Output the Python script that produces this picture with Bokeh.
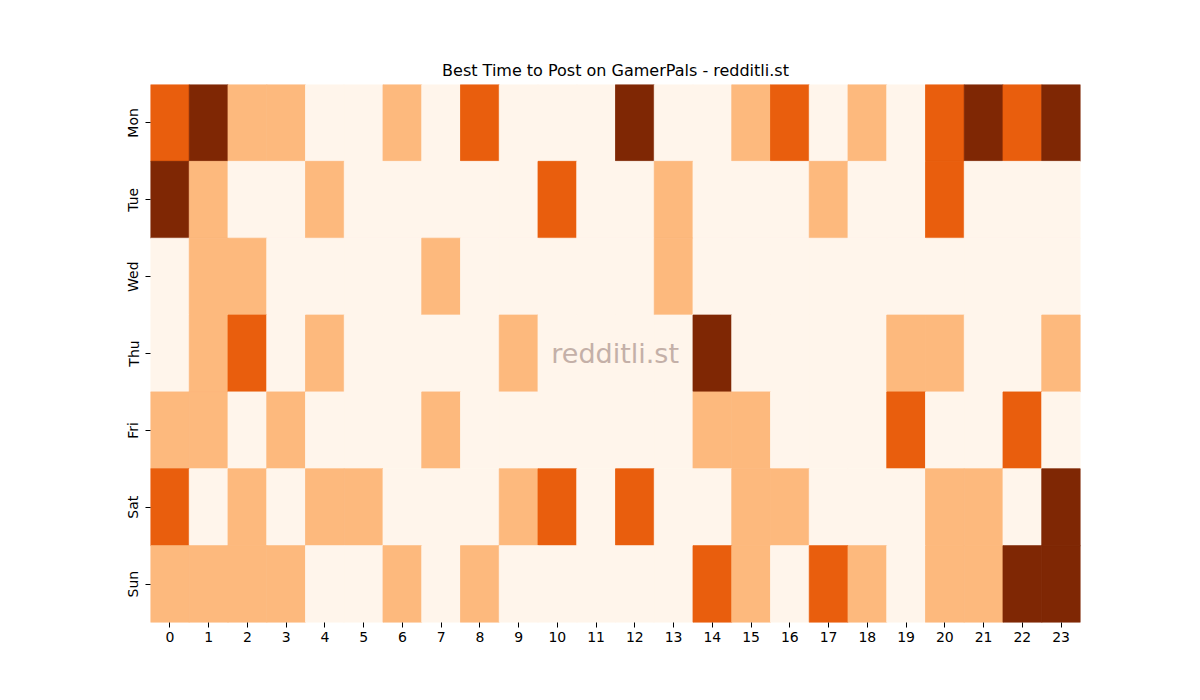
from bokeh.plotting import figure
from bokeh.models import ColumnDataSource
from bokeh.embed import file_html
from bokeh.resources import INLINE
from bokeh.core.properties import value

# datos (0..3 = nivel de actividad)
dias = ["Mon", "Tue", "Wed", "Thu", "Fri", "Sat", "Sun"]
horas = [str(h) for h in range(24)]

mon = [2, 3, 1, 1, 0, 0, 1, 0, 2, 0, 0, 0, 3, 0, 0, 1, 2, 0, 1, 0, 2, 3, 2, 3]
tue = [3, 1, 0, 0, 1, 0, 0, 0, 0, 0, 2, 0, 0, 1, 0, 0, 0, 1, 0, 0, 2, 0, 0, 0]
wed = [0, 1, 1, 0, 0, 0, 0, 1, 0, 0, 0, 0, 0, 1, 0, 0, 0, 0, 0, 0, 0, 0, 0, 0]
thu = [0, 1, 2, 0, 1, 0, 0, 0, 0, 1, 0, 0, 0, 0, 3, 0, 0, 0, 0, 1, 1, 0, 0, 1]
fri = [1, 1, 0, 1, 0, 0, 0, 1, 0, 0, 0, 0, 0, 0, 1, 1, 0, 0, 0, 2, 0, 0, 2, 0]
sat = [2, 0, 1, 0, 1, 1, 0, 0, 0, 1, 2, 0, 2, 0, 0, 1, 1, 0, 0, 0, 1, 1, 0, 3]
sun = [1, 1, 1, 1, 0, 0, 1, 0, 1, 0, 0, 0, 0, 0, 2, 1, 0, 2, 1, 0, 1, 1, 3, 3]

paleta = ["#fff5eb", "#fdb97d", "#e95e0d", "#7f2704"]

filas = [mon, tue, wed, thu, fri, sat, sun]
xs, ys, colores = [], [], []
for dia, fila in zip(dias, filas):
    for hora, v in zip(horas, fila):
        xs.append(hora)
        ys.append(dia)
        colores.append(paleta[v])

source = ColumnDataSource(data=dict(x=xs, y=ys, color=colores))

p = figure(width=1184, height=684, x_range=horas, y_range=list(reversed(dias)),
           output_backend="svg", toolbar_location=None,
           title="Best Time to Post on GamerPals - redditli.st")
p.min_border_left = 150
p.min_border_right = 104
p.min_border_top = 84
p.min_border_bottom = 62
p.outline_line_color = None
p.background_fill_color = "white"
p.grid.grid_line_color = None

p.title.align = "center"
p.title.text_font = "DejaVu Sans"
p.title.text_font_size = "16px"
p.title.text_font_style = "normal"
p.title.text_color = "black"
p.title.offset = 0

p.rect(x="x", y="y", width=1, height=1, source=source,
       fill_color="color", line_color="color", line_width=0.8)

# marca de agua
p.text(x=["11"], y=["Thu"], x_offset=19, text=["redditli.st"], text_align="center",
       text_baseline="middle", text_font=value("DejaVu Sans"),
       text_font_size="27px", text_color="#c4b0a8")

for ax in (p.xaxis[0], p.yaxis[0]):
    ax.axis_line_color = None
    ax.major_tick_line_color = "black"
    ax.major_tick_in = 0
    ax.major_tick_out = 5
    ax.minor_tick_line_color = None
    ax.major_label_text_font = "DejaVu Sans"
    ax.major_label_text_font_size = "14px"
    ax.major_label_text_color = "black"
    ax.major_label_standoff = 4
p.yaxis[0].major_label_orientation = "vertical"

open("out.html", "w").write(file_html(p, INLINE))
